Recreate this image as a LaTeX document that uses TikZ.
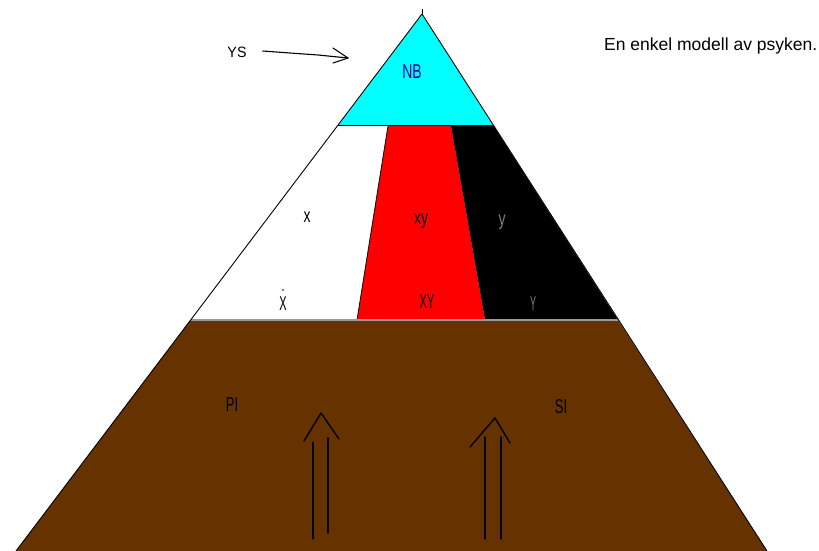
\documentclass[tikz,border=0pt]{standalone}
\usepackage{fontspec}
\setmainfont{Liberation Sans}
\definecolor{brn}{HTML}{663300}
\definecolor{cyn}{HTML}{00FFFF}
\definecolor{nbblue}{HTML}{0000A8}
\definecolor{lgrey}{HTML}{9A9A9A}
\definecolor{ygrey}{HTML}{808080}
\newcommand\narrowtxt[2][0.65]{\scalebox{#1}[1]{#2}}
\begin{document}
\begin{tikzpicture}[x=1pt,y=-1pt,
  lbl/.style={inner sep=0pt, font=\fontsize{20}{20}\selectfont},
  edge/.style={draw=black, line width=0.9pt, line join=round},
  hand/.style={draw=black, line width=1.4pt, line cap=round, line join=round}]
\useasboundingbox (0,0) rectangle (819,551);
\fill[white] (0,0) rectangle (819,551);
% key corners
\coordinate (apex) at (422,14);
\coordinate (bl) at (16,551);
\coordinate (br) at (767,551);
\coordinate (ml) at (190.5,320);
\coordinate (mr) at (618,320);
\coordinate (cl) at (338,125);
\coordinate (cr) at (493,125);
\coordinate (rt) at (388,126);
\coordinate (bt) at (451,126);
\coordinate (rb) at (357,320);
\coordinate (bb) at (485,320);
% regions
\fill[brn] (ml) -- (mr) -- (br) -- (bl) -- cycle;
\fill[white] (cl) -- (rt) -- (rb) -- (ml) -- cycle;
\fill[red] (rt) -- (bt) -- (bb) -- (rb) -- cycle;
\fill[black] (bt) -- (cr) -- (mr) -- (bb) -- cycle;
\fill[cyn] (apex) -- (cr) -- (cl) -- cycle;
\draw[black, line width=0.8pt] (rt) -- (rb);
\draw[black, line width=0.8pt] (cl) -- (cr);
\draw[lgrey, line width=2pt] (ml) -- (mr);
\draw[edge] (bl) -- (apex) -- (br);
\draw[black, line width=0.8pt] (422,9) -- (apex);
% labels
\node[lbl, text=nbblue] (nb) at (412,72) {\narrowtxt[0.7]{NB}};
\node[lbl, font=\fontsize{15}{15}\selectfont] (ys) at (237,52) {\narrowtxt[0.95]{YS}};
\node[inner sep=0pt, anchor=west, font=\fontsize{17.5}{17.5}\selectfont] (title) at (604,46) {En enkel modell av psyken.};
\node[lbl] (x) at (307,217) {\narrowtxt[0.7]{x}};
\node[lbl] (xy) at (421,221) {\narrowtxt[0.7]{xy}};
\node[lbl, text=ygrey] (y) at (502,222) {\narrowtxt[0.7]{y}};
\node[lbl] (X) at (283,304) {\narrowtxt[0.55]{X}};
\fill[black] (283,290) circle (0.9);
\node[lbl] (XY) at (427,302) {\narrowtxt[0.55]{XY}};
\node[lbl, text=ygrey] (Y) at (533,304) {\narrowtxt[0.45]{Y}};
\node[lbl] (PI) at (232,405) {\narrowtxt[0.65]{PI}};
\node[lbl] (SI) at (561,407) {\narrowtxt[0.65]{SI}};
% YS arrow
\coordinate (ystip) at (348,58);
\draw[hand, line width=1.1pt] (ys.east) ++(16,-1) -- (290,53) -- (318,55) -- (ystip);
\draw[hand, line width=1.1pt] (333,48) -- (ystip) -- (333,63);
% left double arrow
\coordinate (la1) at (313,442); \coordinate (la1b) at (313,539);
\coordinate (la2) at (328,438); \coordinate (la2b) at (328,533);
\coordinate (lh) at (321,413);
\draw[hand] (la1b) -- (la1);
\draw[hand] (la2b) -- (la2);
\draw[hand] (304,441) -- (lh) -- (339,439);
% right double arrow
\coordinate (ra1) at (485,437); \coordinate (ra1b) at (485,539);
\coordinate (ra2) at (501,437); \coordinate (ra2b) at (501,539);
\coordinate (rh) at (495,418);
\draw[hand] (ra1b) -- (ra1);
\draw[hand] (ra2b) -- (ra2);
\draw[hand] (470,447) -- (rh) -- (510,443);
\end{tikzpicture}
\end{document}
